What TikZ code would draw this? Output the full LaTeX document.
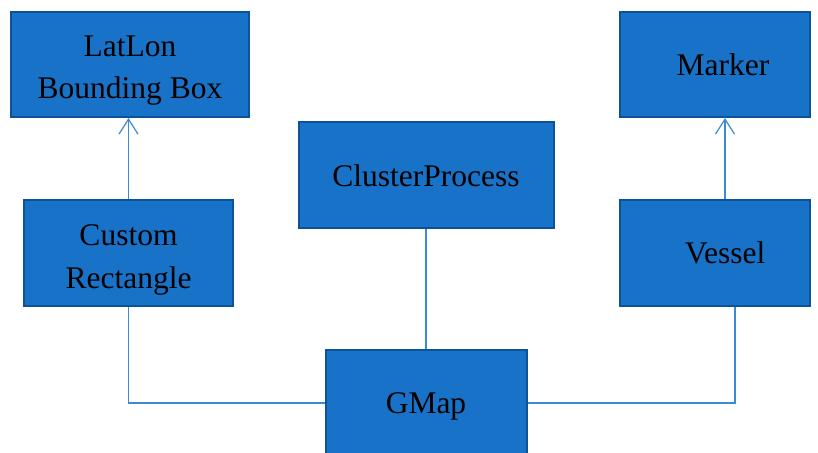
\documentclass[tikz,border=0pt]{standalone}
\usepackage{fontspec}
\setmainfont{Liberation Serif}
\usetikzlibrary{arrows.meta}
\definecolor{boxfill}{RGB}{24,114,200}
\definecolor{boxline}{RGB}{12,82,152}
\definecolor{wire}{RGB}{58,138,214}
\begin{document}
\begin{tikzpicture}[x=1pt,y=-1pt,
  cls/.style={draw=boxline,fill=boxfill,line width=2pt,inner sep=0pt},
  txt/.style={inner sep=0pt,align=center,text=black,
    font=\fontsize{31.5}{42.5}\selectfont},
  link/.style={draw=wire,line width=1.2pt},
  inherit/.style={link,-{Straight Barb[length=15pt,width=19pt,line width=1.2pt]}}]
\useasboundingbox (0,0) rectangle (818,452);
% classes
\node[cls,minimum width=238pt,minimum height=105pt,
  label={[txt,yshift=-6pt]center:LatLon\\Bounding Box}] (bbox) at (130,64.5) {};
\node[cls,minimum width=190pt,minimum height=105pt,
  label={[txt,xshift=8pt]center:Marker}] (marker) at (715,64.5) {};
\node[cls,minimum width=255pt,minimum height=106pt,
  label={[txt,yshift=-1pt]center:ClusterProcess}] (cluster) at (426,175) {};
\node[cls,minimum width=209pt,minimum height=106pt,
  label={[txt,yshift=-7pt]center:Custom\\Rectangle}] (rect) at (128.5,253) {};
\node[cls,minimum width=190pt,minimum height=106pt,
  label={[txt,xshift=10pt]center:Vessel}] (vessel) at (715,253) {};
\node[cls,minimum width=201pt,minimum height=106pt,
  label={[txt,yshift=-3pt]center:GMap}] (gmap) at (426,403) {};
% relations
\draw[inherit] (rect.north) -- (bbox.south -| rect.north);
\draw[inherit] (vessel.north -| 725,0) -- (marker.south -| 725,0);
\draw[link] (cluster.south) -- (gmap.north);
\draw[link] (rect.south) |- (gmap.west);
\draw[link] (vessel.south -| 735,0) |- (gmap.east);
\end{tikzpicture}
\end{document}
